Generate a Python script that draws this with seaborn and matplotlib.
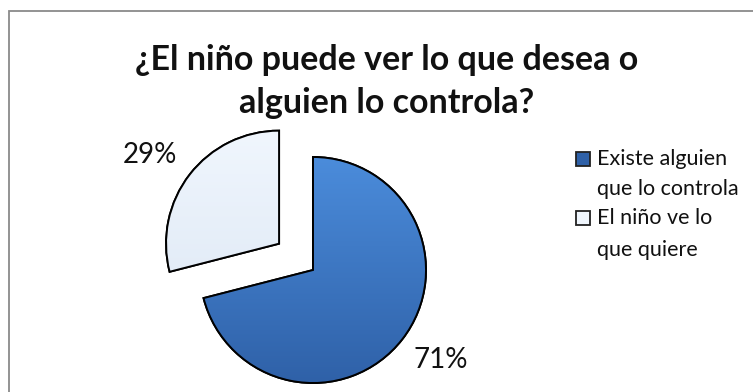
import matplotlib
matplotlib.use("Agg")
import numpy as np
import matplotlib.pyplot as plt
from matplotlib.patches import Rectangle, Wedge
from matplotlib.colors import LinearSegmentedColormap
import seaborn as sns

categories = ["Existe alguien\nque lo controla", "El niño ve lo\nque quiere"]
values = [71, 29]
colors = ["#3b72bb", "#e6effa"]
shades = [("#4b8cdb", "#2f61a8"), ("#f0f6fd", "#dbe6f4")]

sns.set_theme(style="white")
plt.rcParams["font.family"] = ["Lato", "DejaVu Sans"]

W, H = 753, 392
fig = plt.figure(figsize=(W / 100, H / 100), dpi=100)
fig.patch.set_facecolor("white")

# chart frame
fig.patches.append(Rectangle((9 / W, -0.1), 1.2, (H - 11) / H + 0.1,
                             transform=fig.transFigure, fill=False,
                             edgecolor="#8a8a8a", linewidth=1.3))

title_lines = ["¿El niño puede ver lo que desea o", "alguien lo controla?"]
for line, y in zip(title_lines, [70, 113]):
    fig.text(387 / W, 1 - y / H, line, ha="center", va="baseline",
             fontsize=24.5, fontweight="bold", color="#111111")

R = 113
lim = 1.6
half = lim * R
cx, cy = 313, 270
ax = fig.add_axes([(cx - half) / W, (H - cy - half) / H, 2 * half / W, 2 * half / H])

wedges, _ = ax.pie(values, colors=colors, startangle=90, counterclock=False,
                   explode=[0, 0.38], radius=1,
                   wedgeprops=dict(edgecolor="black", linewidth=1.4))
ax.set_xlim(-lim, lim)
ax.set_ylim(-lim, lim)
ax.set_aspect("equal")
ax.axis("off")

# soft top-to-bottom shading inside each slice, then a crisp outline
grad = np.linspace(0, 1, 256).reshape(-1, 1)
for w, (c_top, c_bot) in zip(wedges, shades):
    cmap = LinearSegmentedColormap.from_list("s", [c_top, c_bot])
    x0, y0 = w.center
    im = ax.imshow(grad, cmap=cmap, extent=(x0 - 1, x0 + 1, y0 - 1, y0 + 1),
                   origin="upper", zorder=2, interpolation="bilinear")
    im.set_clip_path(w)
    ax.add_patch(Wedge(w.center, w.r, w.theta1, w.theta2, fill=False,
                       edgecolor="black", linewidth=1.4, zorder=3))
ax.set_xlim(-lim, lim)
ax.set_ylim(-lim, lim)

total = sum(values)
label_pos = [(1.13, -0.80), (-1.44, 1.02)]
for v, (lx, ly) in zip(values, label_pos):
    ax.text(lx, ly, f"{v / total * 100:.0f}%", ha="center", va="center",
            fontsize=20, color="#111111", zorder=4)

# legend: square key beside the first line of each wrapped label
line_y = [[159, 189], [218, 250]]
for cat, (c_top, c_bot), ys in zip(categories, shades, line_y):
    fig.patches.append(Rectangle((576 / W, 1 - (ys[0] + 7) / H), 14 / W, 14 / H,
                                 transform=fig.transFigure, facecolor=c_bot if c_top == "#4b8cdb" else c_top,
                                 edgecolor="#222222", linewidth=1.3))
    for text, y in zip(cat.split("\n"), ys):
        fig.text(597 / W, 1 - y / H, text, ha="left", va="center",
                 fontsize=15.5, color="#111111")

fig.savefig("out.png", dpi=100)
